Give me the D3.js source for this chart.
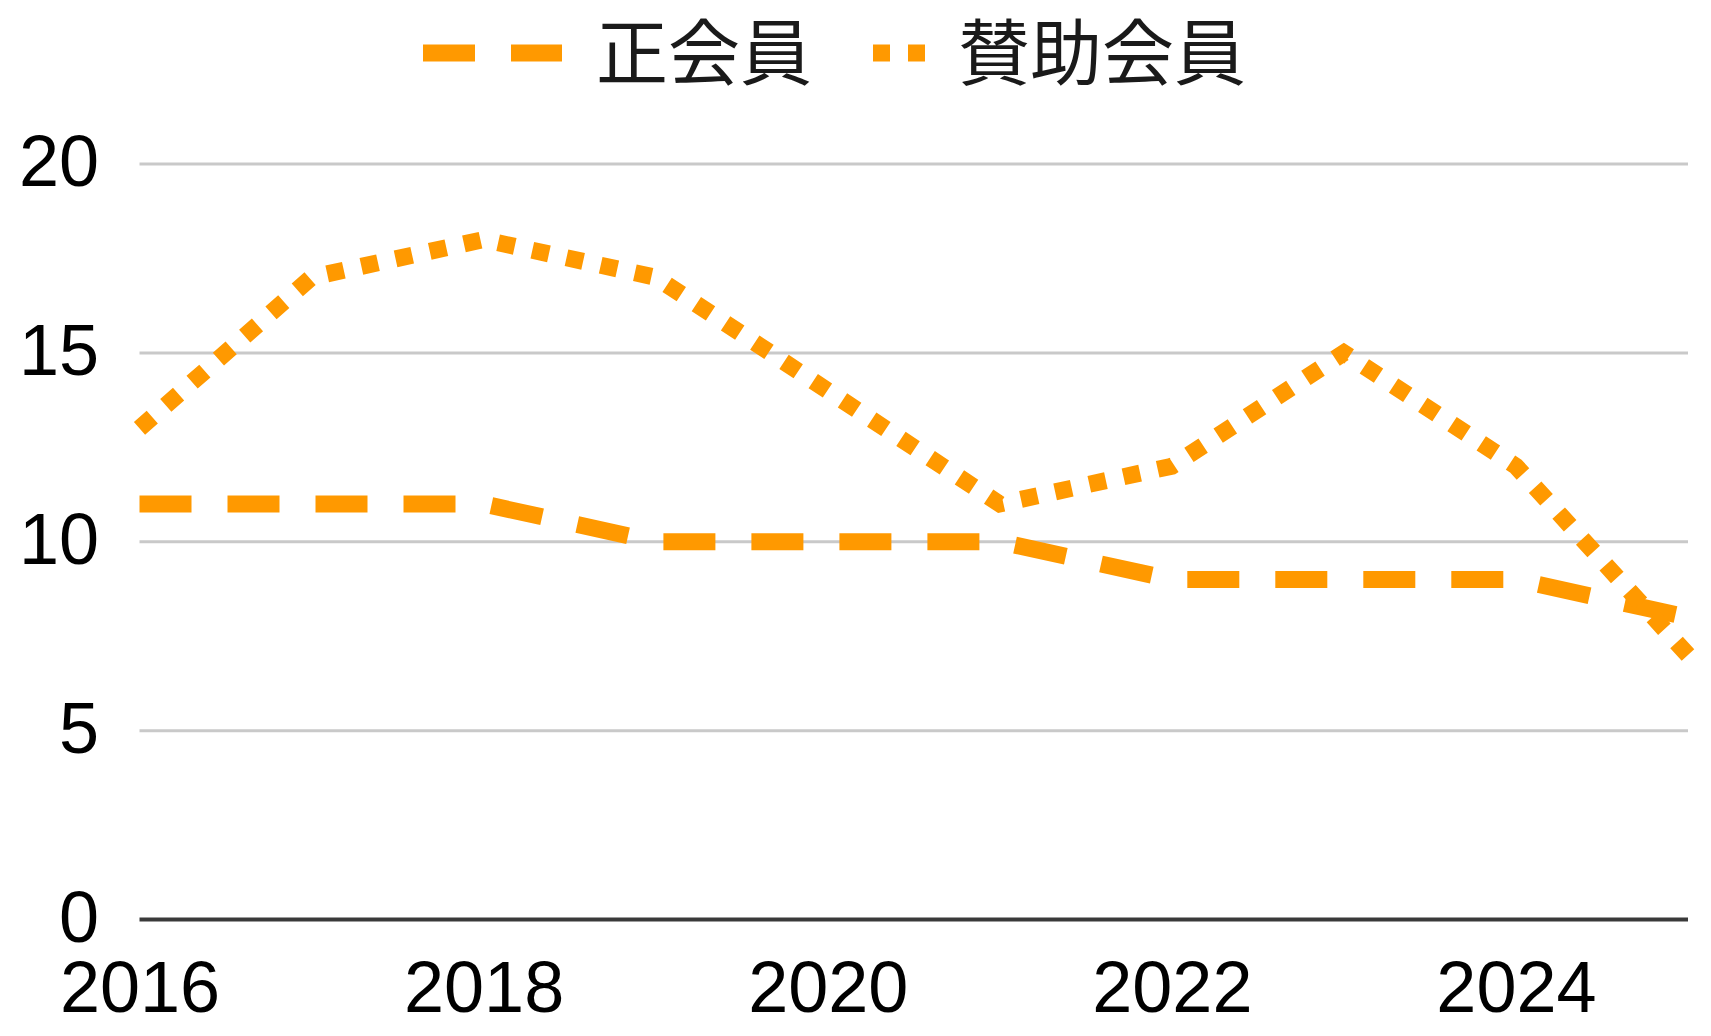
<!DOCTYPE html>
<html>
<head>
<meta charset="utf-8">
<script src="https://cdn.jsdelivr.net/npm/d3@7"></script>
<style>
  html, body { margin: 0; padding: 0; background: #fff; }
  svg { display: block; }
</style>
</head>
<body>
<svg id="chart" width="1711" height="1036"></svg>
<script>
const years = [2016, 2017, 2018, 2019, 2020, 2021, 2022, 2023, 2024, 2025];
const regularMembers = [11, 11, 11, 10, 10, 10, 9, 9, 9, 8];      // 正会員
const supportingMembers = [13, 17, 18, 17, 14, 11, 12, 15, 12, 7]; // 賛助会員
const seriesNames = ["正会員", "賛助会員"];
const yTicks = [0, 5, 10, 15, 20];
const xTicks = [2016, 2018, 2020, 2022, 2024];

const color = "#ff9900";
const svg = d3.select("#chart");

const x = d3.scaleLinear().domain([2016, 2025]).range([139.5, 1688]);
const y = d3.scaleLinear().domain([0, 20]).range([919.5, 164]);

// gridlines
svg.append("g").selectAll("line")
  .data(yTicks.filter(d => d !== 0))
  .join("line")
  .attr("x1", x(2016)).attr("x2", x(2025))
  .attr("y1", d => y(d)).attr("y2", d => y(d))
  .attr("stroke", "#c9c9c9").attr("stroke-width", 3);

// y axis labels
const yAxis = d3.axisLeft(y).tickValues(yTicks).tickSize(0).tickPadding(0);
const gy = svg.append("g").attr("transform", "translate(99,0)").call(yAxis);
gy.select(".domain").remove();
gy.selectAll("text")
  .attr("font-family", "'Liberation Sans', Arial, sans-serif")
  .attr("font-size", 72)
  .attr("fill", "#000")
  .attr("x", 0)
  .attr("dy", "0.30em")
  .attr("text-anchor", "end");

// x axis
const xAxis = d3.axisBottom(x).tickValues(xTicks).tickFormat(d3.format("d")).tickSize(0).tickPadding(0);
const gx = svg.append("g").call(xAxis);
gx.select(".domain").remove();
gx.selectAll("text")
  .attr("font-family", "'Liberation Sans', Arial, sans-serif")
  .attr("font-size", 72)
  .attr("fill", "#000")
  .attr("y", 1012)
  .attr("dy", 0)
  .attr("text-anchor", "middle");

// baseline axis
svg.append("line")
  .attr("x1", x(2016)).attr("x2", x(2025))
  .attr("y1", y(0)).attr("y2", y(0))
  .attr("stroke", "#3a3a3a").attr("stroke-width", 4);

const line = d3.line().x((d, i) => x(years[i])).y(d => y(d));

const dashPattern = "52,36";
const dotPattern = "17,18";

svg.append("path")
  .datum(regularMembers)
  .attr("d", line)
  .attr("fill", "none")
  .attr("stroke", color)
  .attr("stroke-width", 17)
  .attr("stroke-dasharray", dashPattern)
  .attr("stroke-linecap", "butt");

svg.append("path")
  .datum(supportingMembers)
  .attr("d", line)
  .attr("fill", "none")
  .attr("stroke", color)
  .attr("stroke-width", 17)
  .attr("stroke-dasharray", dotPattern)
  .attr("stroke-linecap", "butt");

// legend
const legend = svg.append("g");
const legendFont = "'Noto Sans CJK JP', 'Noto Sans CJK SC', sans-serif";
const ly = 53;
legend.append("line")
  .attr("x1", 423).attr("x2", 562).attr("y1", ly).attr("y2", ly)
  .attr("stroke", color).attr("stroke-width", 17)
  .attr("stroke-dasharray", dashPattern);
legend.append("text")
  .attr("x", 596).attr("y", ly).attr("dy", "0.36em")
  .attr("font-family", legendFont).attr("font-size", 72)
  .attr("fill", "#1a1a1a")
  .text(seriesNames[0]);
legend.append("line")
  .attr("x1", 873).attr("x2", 925).attr("y1", ly).attr("y2", ly)
  .attr("stroke", color).attr("stroke-width", 17)
  .attr("stroke-dasharray", dotPattern);
legend.append("text")
  .attr("x", 958).attr("y", ly).attr("dy", "0.36em")
  .attr("font-family", legendFont).attr("font-size", 72)
  .attr("fill", "#1a1a1a")
  .text(seriesNames[1]);
</script>
</body>
</html>
